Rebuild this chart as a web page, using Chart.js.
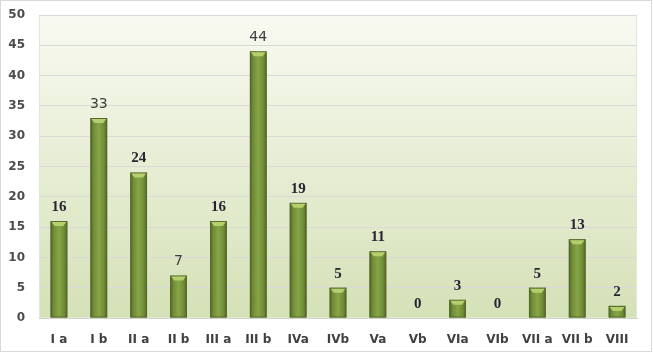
<!DOCTYPE html>
<html><head><meta charset="utf-8">
<script src="https://cdn.jsdelivr.net/npm/chart.js@4/dist/chart.umd.min.js"></script>
<style>html,body{margin:0;padding:0;background:#fff}canvas{display:block}</style>
</head><body>
<canvas id="c" width="653" height="353"></canvas>
<script>
const categories = ['I a','I b','II a','II b','III a','III b','IVa','IVb','Va','Vb','VIa','VIb','VII a','VII b','VIII'];
const values = [16,33,24,7,16,44,19,5,11,0,3,0,5,13,2];
const yTicks = [0,5,10,15,20,25,30,35,40,45,50];
const sansLabelIdx = [1,3,5];

const decor = {
  id:'decor',
  beforeDraw(chart){
    const {ctx, chartArea:a} = chart;
    ctx.save();
    ctx.fillStyle='#fff'; ctx.fillRect(0,0,chart.width,chart.height);
    ctx.strokeStyle='#d9d9d9'; ctx.lineWidth=1;
    ctx.strokeRect(0.5,0.5,chart.width-2,chart.height-2);
    const g = ctx.createLinearGradient(0,a.top,0,a.bottom);
    g.addColorStop(0,'#f8faf1'); g.addColorStop(1,'#d5e1b7');
    ctx.fillStyle=g; ctx.fillRect(a.left,a.top,a.right-a.left,a.bottom-a.top);
    ctx.strokeStyle='#e2e6d4';
    ctx.strokeRect(a.left+0.5,a.top+0.5,a.right-a.left-1,a.bottom-a.top-1);
    ctx.restore();
  },
  afterDatasetsDraw(chart){
    const {ctx} = chart;
    const meta = chart.getDatasetMeta(0);
    ctx.save();
    meta.data.forEach((bar,i)=>{
      const w = bar.width, x0 = bar.x - w/2, x1 = bar.x + w/2;
      const top = bar.y, base = bar.base;
      if (base - top > 1) {
        const g = ctx.createLinearGradient(x0,0,x1,0);
        g.addColorStop(0,'#4f6228'); g.addColorStop(0.18,'#6f8b35');
        g.addColorStop(0.5,'#88a548'); g.addColorStop(0.82,'#6f8b35');
        g.addColorStop(1,'#4f6228');
        ctx.fillStyle=g; ctx.fillRect(x0,top,w,base-top);
        ctx.strokeStyle='#56692c'; ctx.lineWidth=1;
        ctx.strokeRect(x0+0.5,top+0.5,w-1,base-top-1);
        const ch = Math.min(5, base-top);
        ctx.beginPath();
        ctx.moveTo(x0+1,top+1); ctx.lineTo(x1-1,top+1);
        ctx.lineTo(x1-4,top+ch); ctx.lineTo(x0+4,top+ch); ctx.closePath();
        ctx.fillStyle='#b4cf6c'; ctx.fill();
      }
      const sans = sansLabelIdx.includes(i);
      ctx.font = sans ? '14px "DejaVu Sans"' : 'bold 15px "Liberation Serif"';
      ctx.fillStyle = sans ? '#3b3b3b' : '#262633';
      ctx.textAlign='center'; ctx.textBaseline='middle';
      ctx.fillText(String(values[i]), bar.x, top-14);
    });
    ctx.restore();
  }
};

new Chart(document.getElementById('c'), {
  type:'bar',
  data:{labels:categories, datasets:[{data:values, backgroundColor:'rgba(0,0,0,0)', borderWidth:0,
    categoryPercentage:1, barPercentage:0.42}]},
  options:{
    responsive:false, animation:false,
    layout:{padding:{top:15,right:16,left:0,bottom:0}},
    plugins:{legend:{display:false}, tooltip:{enabled:false}},
    scales:{
      x:{
        grid:{display:false, drawTicks:false},
        border:{display:true,color:'#d0d4c4'},
        ticks:{padding:15, color:'#404040', font:{family:'"DejaVu Sans"',weight:'bold',size:12}, maxRotation:0, autoSkip:false},
        afterFit(s){ s.height = 35; s.paddingLeft = 0; s.paddingRight = 0; }
      },
      y:{
        min:0,max:50,
        afterBuildTicks(s){ s.ticks = yTicks.map(v=>({value:v})); },
        grid:{color:'#d9d9d9', drawTicks:false},
        border:{display:false},
        ticks:{padding:14, color:'#4d4d4d', font:{family:'"DejaVu Sans"',weight:'bold',size:12}},
        afterFit(s){ s.width = 39; s.paddingTop = 0; s.paddingBottom = 0; }
      }
    }
  },
  plugins:[decor]
});
</script>
</body></html>
